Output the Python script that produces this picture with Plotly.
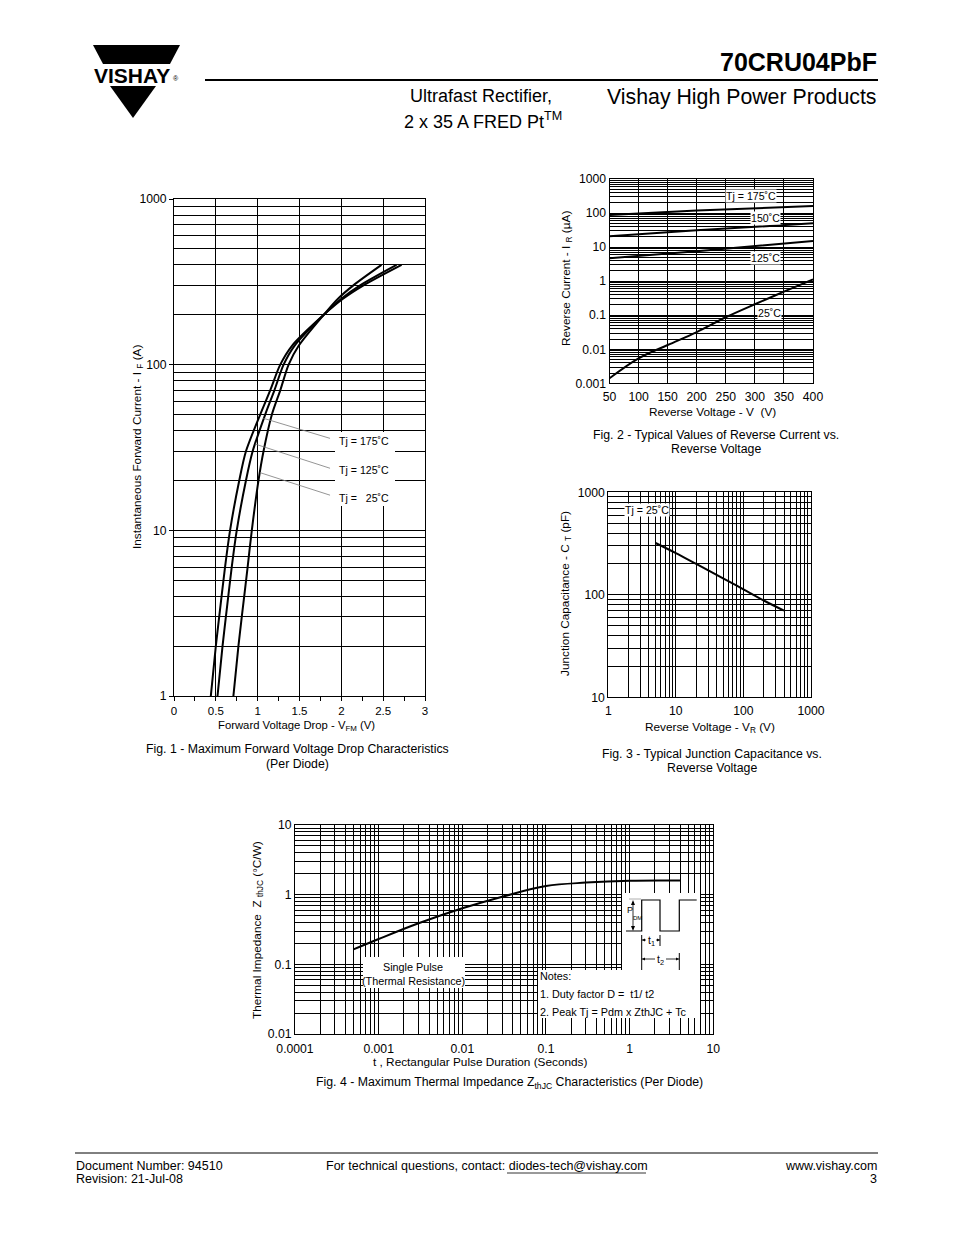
import math
import plotly.graph_objects as go

W, H = 954, 1235
FONT = "Liberation Sans"

# ---------------- data ----------------
# Fig. 1 - forward current (A) vs forward voltage (V) for three junction temperatures
fig1_current = [1, 2, 3, 6, 10, 20, 30, 50, 70, 100, 130, 200, 250, 300, 400]
fig1_vf_175 = [0.44, 0.50, 0.54, 0.61, 0.67, 0.78, 0.86, 1.03, 1.15, 1.27, 1.41, 1.79, 2.02, 2.26, 2.72]
fig1_vf_125 = [0.52, 0.58, 0.62, 0.69, 0.75, 0.86, 0.94, 1.09, 1.20, 1.31, 1.44, 1.79, 2.00, 2.22, 2.66]
fig1_vf_25 = [0.71, 0.77, 0.81, 0.88, 0.93, 1.01, 1.07, 1.17, 1.27, 1.37, 1.49, 1.79, 1.96, 2.14, 2.48]
fig1_labels = ["Tj = 175˚C", "Tj = 125˚C", "Tj =\u00a0\u00a0\u00a025˚C"]
# leader lines (V, I) start and end points
fig1_leader_v = [[1.067, 1.865], [0.968, 1.865], [1.028, 1.865]]
fig1_leader_i = [[47.5, 35.9], [33.2, 23.7], [22.3, 16.3]]
fig1_label_i = [34.8, 23.1, 15.7]

# Fig. 2 - reverse current (uA) vs reverse voltage (V)
fig2_v_hot = [50, 200, 400]
fig2_ir_175 = [88, 118, 160]
fig2_ir_150 = [21, 31, 50]
fig2_ir_125 = [4.7, 7.6, 15]
fig2_v_25 = [50, 100, 150, 200, 250, 300, 350, 400]
fig2_ir_25 = [0.0014, 0.0054, 0.0133, 0.032, 0.087, 0.21, 0.49, 1.13]

# Fig. 3 - junction capacitance (pF) vs reverse voltage (V)
fig3_vr = [5, 10, 20, 50, 100, 200, 400]
fig3_ct = [320, 255, 200, 145, 113, 88, 70]

# Fig. 4 - thermal impedance (C/W) vs pulse duration (s)
fig4_t = [0.0005, 0.001, 0.003, 0.01, 0.03, 0.1, 0.3, 1, 4]
fig4_z = [0.164, 0.231, 0.388, 0.637, 0.935, 1.33, 1.49, 1.59, 1.6]


# ---------------- helpers ----------------
def px(x):
    return x / W


def py(y):
    return 1 - y / H


def minor_vals(lo, hi):
    return [m * 10 ** d for d in range(lo, hi) for m in range(2, 10)]


annotations = []
shapes = []


def text(x, y, s, size=11, xanchor="center", yanchor="middle", angle=0, bg=None, bold=False):
    a = dict(x=px(x), y=py(y), xref="paper", yref="paper", text=("<b>%s</b>" % s) if bold else s,
             showarrow=False, xanchor=xanchor, yanchor=yanchor, textangle=angle,
             font=dict(family=FONT, size=size, color="black"), borderpad=0)
    if bg:
        a["bgcolor"] = bg
    annotations.append(a)


def rect(x0, y0, x1, y1, fill="white"):
    shapes.append(dict(type="rect", xref="paper", yref="paper", x0=px(x0), x1=px(x1), y0=py(y1), y1=py(y0),
                       fillcolor=fill, line=dict(width=0), layer="above"))


def line(x0, y0, x1, y1, w=1, color="black"):
    shapes.append(dict(type="line", xref="paper", yref="paper", x0=px(x0), x1=px(x1), y0=py(y0), y1=py(y1),
                       line=dict(color=color, width=w), layer="above"))


def path(points, fill=None, w=1):
    d = "M " + " L ".join("%f,%f" % (px(x), py(y)) for x, y in points)
    s = dict(type="path", xref="paper", yref="paper", path=d + (" Z" if fill else ""),
             line=dict(color="black", width=w if not fill else 0), layer="above")
    if fill:
        s["fillcolor"] = fill
    shapes.append(s)


fig = go.Figure()
CURVE = dict(color="black", width=2)

# Fig 1 curves
for vf in (fig1_vf_175, fig1_vf_125, fig1_vf_25):
    fig.add_trace(go.Scatter(x=vf, y=fig1_current, mode="lines", line=dict(shape="spline", smoothing=0.8, **CURVE),
                             xaxis="x", yaxis="y", hoverinfo="skip"))
for lv, li in zip(fig1_leader_v, fig1_leader_i):
    fig.add_trace(go.Scatter(x=lv, y=li, mode="lines", line=dict(color="#7a7a7a", width=0.8),
                             xaxis="x", yaxis="y", hoverinfo="skip"))

# Fig 2 curves
for ir in (fig2_ir_175, fig2_ir_150, fig2_ir_125):
    fig.add_trace(go.Scatter(x=fig2_v_hot, y=ir, mode="lines", line=dict(shape="spline", **CURVE),
                             xaxis="x2", yaxis="y2", hoverinfo="skip"))
fig.add_trace(go.Scatter(x=fig2_v_25, y=fig2_ir_25, mode="lines", line=dict(shape="spline", **CURVE),
                         xaxis="x2", yaxis="y2", hoverinfo="skip"))

# Fig 3
fig.add_trace(go.Scatter(x=fig3_vr, y=fig3_ct, mode="lines", line=dict(shape="spline", **CURVE),
                         xaxis="x3", yaxis="y3", hoverinfo="skip"))

# Fig 4
fig.add_trace(go.Scatter(x=fig4_t, y=fig4_z, mode="lines", line=dict(shape="spline", **CURVE),
                         xaxis="x4", yaxis="y4", hoverinfo="skip"))

TF = dict(family=FONT, size=12.2, color="black")
base = dict(showline=True, linecolor="black", linewidth=1, mirror=True, showgrid=True, gridcolor="black",
            gridwidth=1, zeroline=False, tickfont=TF, ticks="", fixedrange=True, automargin=False)


def logminor(lo, hi):
    return dict(tickmode="array", tickvals=minor_vals(lo, hi), showgrid=True, gridcolor="black", gridwidth=1, ticks="")


def dec_axis(lo, hi, labels, **kw):
    d = dict(base, type="log", range=[lo, hi], tickmode="array", tickvals=[10 ** k for k in range(lo, hi + 1)],
             ticktext=labels, minor=logminor(lo, hi))
    d.update(kw)
    return d


layout = dict(
    template="none",
    width=W, height=H, autosize=False, margin=dict(l=0, r=0, t=0, b=0, pad=0, autoexpand=False),
    paper_bgcolor="white", plot_bgcolor="white",
    showlegend=False, font=dict(family=FONT, color="black"),
    # Fig 1
    xaxis=dict(base, domain=[px(174), px(425)], anchor="y", range=[0, 3], tick0=0, dtick=0.5,
               ticks="outside", ticklen=4, tickcolor="black", tickfont=dict(TF, size=11.5),
               minor=dict(tick0=0, dtick=0.25, ticks="outside", ticklen=4, tickcolor="black", showgrid=False)),
    yaxis=dec_axis(0, 3, ["1", "10", "100", "1000"], domain=[py(696), py(199)], anchor="x",
                   ticks="outside", ticklen=4, tickcolor="black"),
    # Fig 2
    xaxis2=dict(base, domain=[px(609.5), px(813)], anchor="y2", range=[50, 400], tick0=50, dtick=50,
                ticklabelstandoff=2),
    yaxis2=dec_axis(-3, 3, ["0.001", "0.01", "0.1", "1", "10", "100", "1000"],
                    domain=[py(383.3), py(179)], anchor="x2"),
    # Fig 3
    xaxis3=dec_axis(0, 3, ["1", "10", "100", "1000"], domain=[px(608.3), px(811)], anchor="y3",
                    ticklabelstandoff=2),
    yaxis3=dec_axis(1, 3, ["10", "100", "1000"], domain=[py(697.3), py(492.3)], anchor="x3"),
    # Fig 4
    xaxis4=dec_axis(-4, 1, ["0.0001", "0.001", "0.01", "0.1", "1", "10"], domain=[px(295), px(713.3)], anchor="y4",
                    ticklabelstandoff=3),
    yaxis4=dec_axis(-2, 1, ["0.01", "0.1", "1", "10"], domain=[py(1034), py(825)], anchor="x4"),
)

AX = 11.8   # axis title size
CAP = 12.3  # caption size

# ---------------- header ----------------
path([(93, 45), (180, 45), (170, 64), (103, 64)], fill="black")
path([(110, 86), (156, 86), (133, 118)], fill="black")
text(132, 75, "VISHAY", size=21, bold=True)
text(176, 79, "®", size=7)
text(878, 62, "70CRU04PbF", size=25, xanchor="right", bold=True)
line(205, 80, 878, 80, w=2)
text(878, 97, "Vishay High Power Products", size=21.3, xanchor="right")
text(481, 96, "Ultrafast Rectifier,", size=18)
text(483, 120, "2 x 35 A FRED Pt<sup>TM</sup>", size=18)

# ---------------- fig 1 texts ----------------
rect(335, 432, 395, 506)
for lab, li in zip(fig1_labels, fig1_label_i):
    annotations.append(dict(x=1.945, y=math.log10(li), xref="x", yref="y", text=lab, showarrow=False,
                            xanchor="left", yanchor="middle", font=dict(family=FONT, size=10.6, color="black")))
text(296, 726, "Forward Voltage Drop - V<sub>FM</sub> (V)", size=11.3)
text(138, 447, "Instantaneous Forward Current - I <sub>F</sub> (A)", size=AX, angle=-90)
text(297, 749, "Fig. 1 - Maximum Forward Voltage Drop Characteristics", size=CAP)
text(297, 764, "(Per Diode)", size=CAP)

# ---------------- fig 2 texts ----------------
text(751, 196, "Tj = 175˚C", size=10.6, bg="white")
text(765, 218, "150˚C", size=10.6, bg="white")
text(765, 258, "125˚C", size=10.6, bg="white")
text(769, 313, "25˚C", size=10.6, bg="white")
text(712, 412, "Reverse Voltage - V\u00a0\u00a0(V)", size=AX)
text(567, 279, "Reverse Current - I <sub>R</sub> (µA)", size=AX, angle=-90)
text(716, 435, "Fig. 2 - Typical Values of Reverse Current vs.", size=CAP)
text(716, 449, "Reverse Voltage", size=CAP)

# ---------------- fig 3 texts ----------------
text(647, 510, "Tj = 25˚C", size=10.6, bg="white")
text(710, 727, "Reverse Voltage - V<sub>R</sub> (V)", size=AX)
text(565, 594, "Junction Capacitance - C <sub>T</sub> (pF)", size=AX, angle=-90)
text(712, 754, "Fig. 3 - Typical Junction Capacitance vs.", size=CAP)
text(712, 768, "Reverse Voltage", size=CAP)

# ---------------- fig 4 texts ----------------
rect(363, 957, 465, 988)
rect(538, 970, 700, 1018)
rect(622, 893, 700, 970)
text(413, 967, "Single Pulse", size=10.8)
text(413, 981, "(Thermal Resistance)", size=10.8)
text(539, 976, "Notes:", size=10.8, xanchor="left")
text(539, 994, "1. Duty factor D =\u00a0 t1/ t2", size=10.8, xanchor="left")
text(539, 1012, "2. Peak Tj = Pdm x ZthJC + Tc", size=10.8, xanchor="left")
# pulse sketch
path([(626, 931), (641.7, 931), (641.7, 900), (660, 900), (660, 931), (679.3, 931), (679.3, 900), (696.7, 900)], w=1.2)
line(633, 902, 633, 929, w=0.8)
line(629, 899, 641, 899, w=0.8, color="#999999")
path([(631, 905), (635, 905), (633, 900)], fill="black")
path([(631, 926), (635, 926), (633, 931)], fill="black")
text(630, 910, "P", size=9)
text(637, 918, "DM", size=6)
line(641.7, 935, 641.7, 970, w=1)
line(660, 935, 660, 946, w=1)
line(679.3, 953, 679.3, 970, w=1)
line(641.7, 940, 646, 940, w=0.8)
line(656, 940, 660, 940, w=0.8)
path([(645, 938.5), (645, 941.5), (642, 940)], fill="black")
path([(657, 938.5), (657, 941.5), (660, 940)], fill="black")
text(651, 941, "t<sub>1</sub>", size=10.5)
line(641.7, 959, 655, 959, w=0.8)
line(666, 959, 679.3, 959, w=0.8)
path([(645, 957.5), (645, 960.5), (642, 959)], fill="black")
path([(676, 957.5), (676, 960.5), (679, 959)], fill="black")
text(660, 960, "t<sub>2</sub>", size=10.5)
text(480, 1062, "t , Rectangular Pulse Duration (Seconds)", size=AX)
text(257, 930, "Thermal Impedance\u00a0 Z <sub>thJC</sub> (°C/W)", size=AX, angle=-90)
text(509, 1083, "Fig. 4 - Maximum Thermal Impedance Z<sub>thJC</sub> Characteristics (Per Diode)", size=CAP)

# ---------------- footer ----------------
FT = 12.5
line(75, 1153, 878, 1153, w=1)
text(75, 1166, "Document Number: 94510", size=FT, xanchor="left")
text(75, 1179, "Revision: 21-Jul-08", size=FT, xanchor="left")
text(325, 1166, "For technical questions, contact: diodes-tech@vishay.com", size=FT, xanchor="left")
line(507, 1173, 646, 1173, w=0.8)
text(878, 1166, "www.vishay.com", size=FT, xanchor="right")
text(878, 1179, "3", size=FT, xanchor="right")

layout["annotations"] = annotations
layout["shapes"] = shapes
fig.update_layout(**layout)
fig.write_html("out.html", config={"displayModeBar": False, "staticPlot": True},
               post_script="document.body.style.margin='0px';document.body.style.padding='0px';")
